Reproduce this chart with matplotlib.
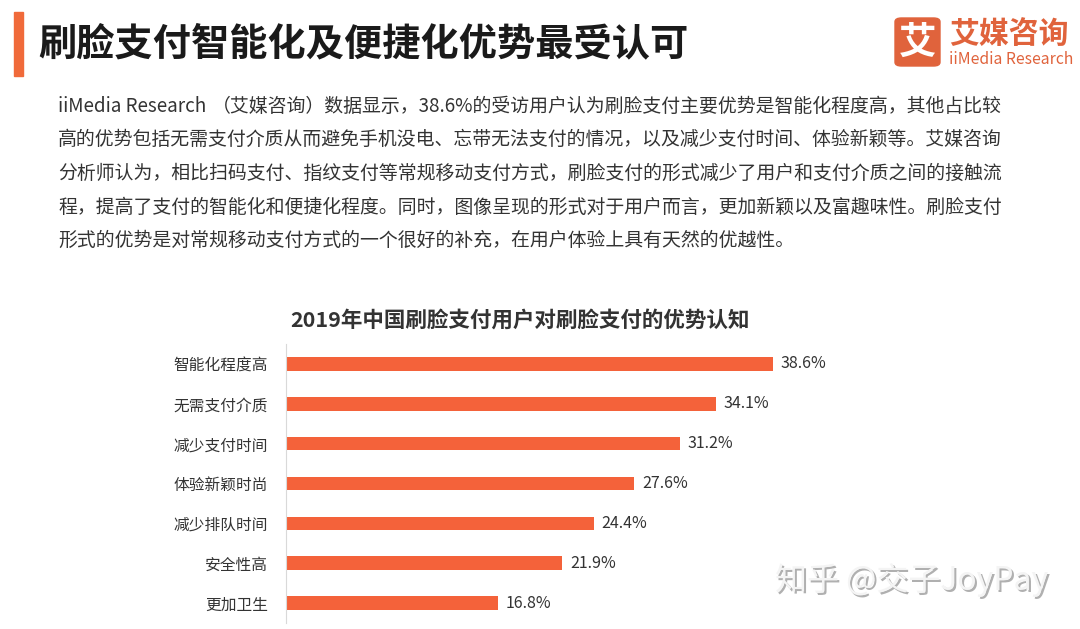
import matplotlib
matplotlib.use("Agg")
import matplotlib.pyplot as plt
from matplotlib.patches import Rectangle, FancyBboxPatch

plt.rcParams['font.family'] = ['Noto Sans CJK SC', 'DejaVu Sans']

W, H = 1080, 629

title = "刷脸支付智能化及便捷化优势最受认可"
para_head = "iiMedia Research"
paragraph = [
    "（艾媒咨询）数据显示，38.6%的受访用户认为刷脸支付主要优势是智能化程度高，其他占比较",
    "高的优势包括无需支付介质从而避免手机没电、忘带无法支付的情况，以及减少支付时间、体验新颖等。艾媒咨询",
    "分析师认为，相比扫码支付、指纹支付等常规移动支付方式，刷脸支付的形式减少了用户和支付介质之间的接触流",
    "程，提高了支付的智能化和便捷化程度。同时，图像呈现的形式对于用户而言，更加新颖以及富趣味性。刷脸支付",
    "形式的优势是对常规移动支付方式的一个很好的补充，在用户体验上具有天然的优越性。",
]
chart_title = "2019年中国刷脸支付用户对刷脸支付的优势认知"
categories = ["智能化程度高", "无需支付介质", "减少支付时间", "体验新颖时尚",
              "减少排队时间", "安全性高", "更加卫生"]
values = [38.6, 34.1, 31.2, 27.6, 24.4, 21.9, 16.8]

ORANGE = "#F4623A"
LOGO = "#E0633C"


def px(x, y):
    return x / W, 1 - y / H


fig = plt.figure(figsize=(W / 100, H / 100), dpi=100)
fig.patch.set_facecolor("white")

# header
fig.patches.append(Rectangle(px(14, 76), 9 / W, 64 / H, transform=fig.transFigure,
                             color="#F06A3A", zorder=1))
fig.text(*px(38, 44), title, fontsize=27.5, fontweight="bold", color="#1a1a1a",
         va="center", ha="left")

# logo
fig.patches.append(FancyBboxPatch(px(895, 66), 45 / W, 48 / H, transform=fig.transFigure,
                                  boxstyle="round,pad=0,rounding_size=0.006",
                                  color=LOGO, zorder=1))
fig.text(*px(917.5, 42), "艾", fontsize=27, fontweight="bold", color="white",
         ha="center", va="center")
fig.text(*px(949, 34), "艾媒咨询", fontsize=21.5, fontweight="bold", color=LOGO,
         ha="left", va="center")
fig.text(*px(949, 60), "iiMedia Research", fontsize=11.3, color=LOGO,
         ha="left", va="center")

# paragraph (lines 1-4 are justified to the right edge)
para_fs = 13.6
fig.text(*px(58, 106), para_head, fontsize=para_fs, color="#333333",
         ha="left", va="center")
for i, line in enumerate(paragraph):
    y = 106 + 33.7 * i
    if i == 0:
        fig.text(*px(1002, y), line, fontsize=para_fs, color="#333333",
                 ha="right", va="center")
    else:
        fig.text(*px(58, y), line, fontsize=para_fs, color="#333333",
                 ha="left", va="center")

fig.text(*px(520, 320), chart_title, fontsize=15.5, fontweight="bold",
         color="#333333", ha="center", va="center")

# bar chart
x0, x1 = 286, 286 + 12.62 * 50
y_top, y_bot = 344, 623
ax = fig.add_axes([x0 / W, 1 - y_bot / H, (x1 - x0) / W, (y_bot - y_top) / H])
ypos = range(len(categories))
ax.barh(ypos, values, height=0.34, color=ORANGE)
ax.set_xlim(0, 50)
ax.set_ylim(len(categories) - 0.5, -0.5)
ax.set_yticks(list(ypos))
ax.set_yticklabels(categories, fontsize=11.3, color="#333333")
ax.tick_params(axis="y", length=0, pad=13)
ax.set_xticks([])
for s in ["top", "right", "bottom"]:
    ax.spines[s].set_visible(False)
ax.spines["left"].set_color("#d9d9d9")
ax.spines["left"].set_linewidth(0.8)
for y, v in zip(ypos, values):
    ax.text(v + 0.6, y, f"{v}%", fontsize=11.5, color="#333333",
            va="center", ha="left")

# watermark
wm = "知乎 @交子JoyPay"
fig.text(*px(777, 582), wm, fontsize=23, color="#b0b0b0", ha="left", va="center")
fig.text(*px(775, 580), wm, fontsize=23, color="#f4f4f4", ha="left", va="center")

fig.savefig("out.png", dpi=100)
